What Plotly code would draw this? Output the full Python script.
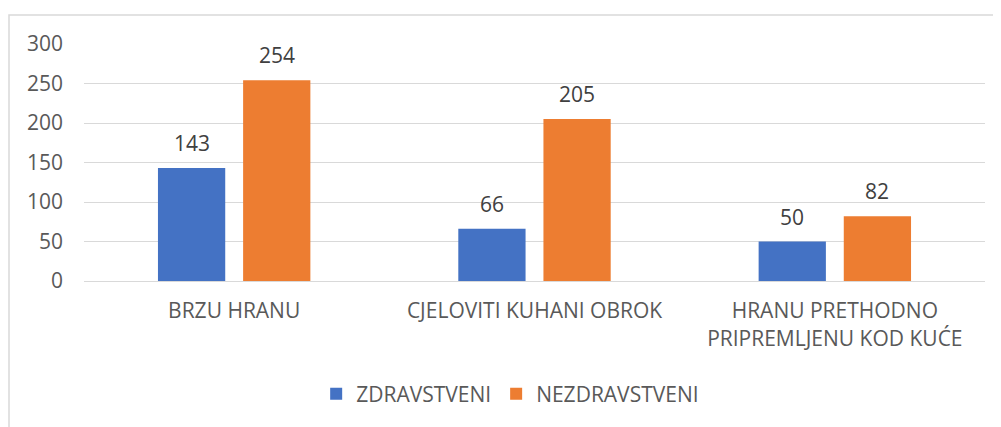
import plotly.graph_objects as go

categories = ["BRZU HRANU", "CJELOVITI KUHANI OBROK", "HRANU PRETHODNO<br>PRIPREMLJENU KOD KUĆE"]
series_names = ["ZDRAVSTVENI", "NEZDRAVSTVENI"]
zdravstveni = [143, 66, 50]
nezdravstveni = [254, 205, 82]
y_ticks = [0, 50, 100, 150, 200, 250, 300]

colors = ["#4472C4", "#ED7D31"]
FONT = "Open Sans"
FS = 21

# page body has an 8px offset; margins are expressed in figure coordinates
L, T, R, B = 76, 36, 24, 154
PW = 1001 - L - R
PH = 427 - T - B

fig = go.Figure()
series = [zdravstveni, nezdravstveni]
for name, vals, col in zip(series_names, series, colors):
    fig.add_trace(go.Bar(
        x=categories, y=vals, name=name, marker=dict(color=col, line=dict(width=0)),
    ))

# data labels
group_offsets = [-42.5, 42.5]
annotations = []
for vals, off in zip(series, group_offsets):
    for c, v in zip(categories, vals):
        annotations.append(dict(x=c, y=v, text=str(v), showarrow=False, xref="x", yref="y",
                                xshift=off, yshift=9, yanchor="bottom",
                                font=dict(family=FONT, size=FS, color="#404040")))

fig.update_layout(
    width=1001, height=427,
    margin=dict(l=L, r=R, t=T, b=B, autoexpand=False),
    paper_bgcolor="white", plot_bgcolor="white",
    barmode="group", bargap=0.433, bargroupgap=0.21,
    font=dict(family=FONT, size=FS, color="#595959"),
    showlegend=True,
    legend=dict(orientation="h", x=0.473, xanchor="center", yref="container", y=1 - 386 / 427,
                yanchor="middle",
                font=dict(family=FONT, size=FS, color="#595959"),
                itemwidth=30, tracegroupgap=0),
    yaxis=dict(range=[0, 300], tickvals=y_ticks, showgrid=True, gridcolor="#D9D9D9", gridwidth=1,
               zeroline=False, showline=False, ticks="", ticklabelstandoff=20, automargin=False,
               tickfont=dict(family=FONT, size=FS, color="#595959")),
    xaxis=dict(showline=True, linecolor="#D9D9D9", linewidth=1, ticks="", automargin=False,
               tickfont=dict(family=FONT, size=FS, color="#595959"), ticklabelstandoff=11),
    annotations=annotations,
    shapes=[dict(type="rect", xref="paper", yref="paper", layer="below",
                 x0=-(L - 1) / PW, x1=1.1, y0=-(B + 20) / PH, y1=(PH + 29) / PH,
                 line=dict(color="#D9D9D9", width=1.5), fillcolor="rgba(0,0,0,0)")],
)

fig.write_html("out.html")
